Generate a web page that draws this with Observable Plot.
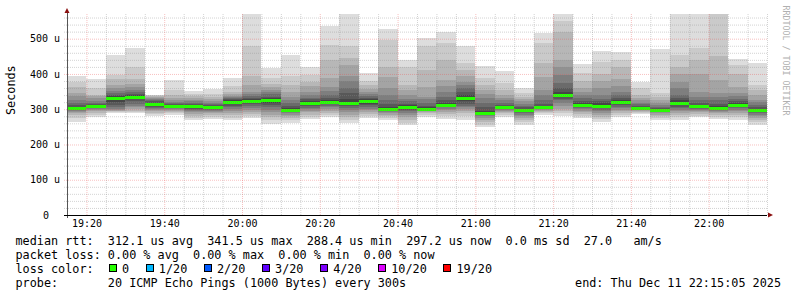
<!DOCTYPE html>
<html><head><meta charset="utf-8">
<script src="https://cdn.jsdelivr.net/npm/d3@7"></script>
<script src="https://cdn.jsdelivr.net/npm/@observablehq/plot@0.6"></script>
<style>
html,body{margin:0;padding:0;background:#fff;}
#wrap{width:797px;height:297px;position:relative;overflow:hidden;background:#fff;}
#wrap svg{display:block;}
svg text{white-space:pre;}
.legend{font-family:'DejaVu Sans Mono',monospace;font-size:11.8px;line-height:14px;color:#000;padding:2px 0 0 15.5px;white-space:pre;}
.legend .row{height:14px;display:flex;align-items:center;}
.legend .last{justify-content:space-between;padding-right:16px;}
.box{display:inline-block;width:8px;height:8px;box-sizing:border-box;border:1px solid #000;position:relative;top:-1px;}
</style></head><body><div id="wrap"></div>
<script>
// ---- data ----
const timeWindow = ["19:15", "22:15"];
const barEnd = ["19:20","19:25","19:30","19:35","19:40","19:45","19:50","19:55","20:00","20:05","20:10","20:15",
  "20:20","20:25","20:30","20:35","20:40","20:45","20:50","20:55","21:00","21:05","21:10","21:15",
  "21:20","21:25","21:30","21:35","21:40","21:45","21:50","21:55","22:00","22:05","22:10","22:15"];
// 20 sorted ping RTTs per step (microseconds)
const pings = [
  [265,275,284,289,293,296,298,300,301,302,304,306,312,318,325,338,347,362,376,395],
  [277,283,290,294,298,301,303,305,307,308,310,312,315,318,323,331,337,341,360,385],
  [288,291,294,296,298,300,305,312,320,330,334,337,340,345,352,360,370,385,398,455],
  [288,292,296,300,305,310,316,322,328,333,337,340,344,348,355,362,372,385,420,475],
  [281,286,290,295,298,301,304,307,310,313,317,319,322,325,328,331,334,337,339,341],
  [285,290,293,296,299,301,303,305,307,308,310,312,314,317,321,327,333,340,355,383],
  [270,276,282,287,291,295,299,302,305,307,311,313,316,319,323,327,332,337,343,352],
  [271,277,283,288,292,295,298,301,303,305,307,309,312,315,319,324,330,336,344,356],
  [268,276,284,290,295,300,305,310,315,318,322,325,328,331,334,338,343,350,365,389],
  [274,280,286,292,298,304,310,315,319,322,324,328,333,337,342,350,369,393,478,600],
  [259,268,277,285,292,298,305,312,318,323,327,331,336,342,348,355,362,372,388,417],
  [262,270,276,281,285,288,291,293,295,297,299,303,310,318,327,336,350,369,393,455],
  [271,278,285,291,296,300,304,308,312,315,319,323,328,333,340,350,365,378,397,419],
  [277,283,289,295,300,305,310,314,318,320,322,326,331,341,352,364,388,440,483,537],
  [262,270,278,285,292,298,303,308,313,317,321,330,345,360,380,393,426,445,478,600],
  [274,280,286,292,297,302,307,312,316,320,324,328,333,338,344,350,358,368,380,402],
  [270,276,281,285,289,292,295,297,299,301,303,307,315,325,340,360,390,421,497,527],
  [255,262,270,278,285,290,295,299,302,305,307,311,316,322,330,340,355,369,421,440],
  [279,284,288,291,294,296,298,299,300,301,302,305,310,318,328,336,364,412,478,501],
  [273,280,287,293,298,302,305,308,310,312,314,318,325,336,350,365,384,440,487,518],
  [270,280,288,295,300,305,310,316,322,329,335,341,350,360,370,378,395,412,430,478],
  [249,256,263,270,276,280,283,285,287,288,290,295,305,318,331,342,355,370,388,423],
  [279,284,288,292,295,298,300,302,303,304,306,309,313,318,325,333,341,355,374,409],
  [255,263,270,276,281,285,289,292,294,296,298,301,305,310,316,322,328,336,345,359],
  [284,288,292,295,298,300,302,303,304,305,307,310,315,325,341,355,390,430,487,516],
  [281,288,295,302,310,318,325,330,335,339,343,350,360,375,398,420,440,520,549,600],
  [274,280,286,291,296,300,303,306,309,311,315,319,324,331,340,350,360,380,402,429],
  [265,272,279,285,290,295,299,303,306,308,312,317,323,330,340,360,380,400,435,465],
  [277,283,289,294,299,303,307,311,315,319,323,327,333,340,350,365,385,421,440,461],
  [287,290,293,295,297,299,300,301,302,303,305,307,310,314,319,325,332,341,360,376],
  [270,276,281,285,289,292,294,295,296,297,298,300,303,307,312,318,325,336,345,470],
  [270,277,284,290,295,299,303,307,311,315,319,325,332,341,360,378,400,421,455,600],
  [277,282,287,291,295,298,301,304,306,308,310,313,318,325,335,350,400,440,473,600],
  [271,277,283,288,292,295,298,300,301,302,304,308,315,325,334,345,384,450,580,620],
  [270,277,284,290,295,299,303,306,309,311,313,317,322,330,338,345,364,400,425,442],
  [255,263,270,276,281,285,289,292,295,297,299,302,306,312,320,327,340,355,369,430]
];
const medians = [303,309,332,335,315,309,309,306,320,323,325,298,317,321,319,322,302,306,301,313,332,289,305,297,306,341,313,310,321,304,297,317,309,303,312,298];
const lossPerStep = new Array(36).fill(0); // all steps: 0/20 lost
const yTicks = [0,100,200,300,400,500];
const lossLabels = ["0","1/20","2/20","3/20","4/20","10/20","19/20"];
const lossColors = ["#26ff00","#00b8ff","#0059ff","#5e00ff","#7e00ff","#dd00ff","#ff0000"];
const rttStats = ["312.1 us avg","341.5 us max","288.4 us min","297.2 us now","0.0 ms sd","27.0   am/s"];
const lossStats = ["0.00 % avg","0.00 % max","0.00 % min","0.00 % now"];
const probeText = "20 ICMP Echo Pings (1000 Bytes) every 300s";
const endText = "end: Thu Dec 11 22:15:05 2025";

// ---- build ----
const toDate = s => { const [h,m] = s.split(":").map(Number); return new Date(Date.UTC(2025,11,11,h,m)); };
const STEP = 5*60*1000;
const x0 = toDate(timeWindow[0]), x1 = toDate(timeWindow[1]);
const bars = barEnd.map((s,i) => ({start: new Date(+toDate(s) - STEP), end: toDate(s), p: pings[i], median: medians[i], loss: lossPerStep[i]}));
const grey = k => { const c = Math.floor(190/10*(10-k)) + 50; return `rgb(${c},${c},${c})`; };
const layers = [];
for (let k = 1; k <= 10; k++) for (const b of bars) layers.push({start: b.start, end: b.end, lo: b.p[k-1], hi: b.p[20-k], fill: grey(k)});

const majorX = d3.utcMinute.every(20).range(x0, new Date(+x1 + 1));
const allX = d3.utcMinute.every(5).range(new Date(+x0 + 1), new Date(+x1 + 1));
const minorX = allX.filter(d => d.getUTCMinutes() % 20 !== 0);
const majorY = d3.range(100, 570, 100);
const minorY = d3.range(20, 570, 20).filter(v => v % 100 !== 0);
const gridMinor = "rgba(140,140,140,0.38)", gridMajor = "rgba(232,80,80,0.36)";

const plot = Plot.plot({
  width: 797, height: 232,
  marginLeft: 67, marginRight: 30, marginTop: 14, marginBottom: 17,
  style: {fontFamily: "'DejaVu Sans Mono', monospace", fontSize: "10px", background: "#fff", color: "#000", overflow: "visible"},
  x: {type: "utc", domain: [x0, x1]},
  y: {domain: [0, 570]},
  color: {type: "identity"},
  marks: [
    Plot.rect(layers, {x1: "start", x2: "end", y1: "lo", y2: "hi", fill: "fill", clip: true, shapeRendering: "crispEdges"}),
    Plot.ruleY(bars, {x1: "start", x2: "end", y: "median", stroke: d => lossColors[d.loss], strokeWidth: 3, shapeRendering: "crispEdges"}),
    Plot.ruleY(minorY, {stroke: gridMinor, strokeDasharray: "1,1", insetLeft: -3}),
    Plot.ruleX(minorX, {stroke: gridMinor, strokeDasharray: "1,1"}),
    Plot.ruleY(majorY, {stroke: gridMajor, strokeDasharray: "1,1", insetLeft: -3}),
    Plot.ruleX(majorX, {stroke: gridMajor, strokeDasharray: "1,1"}),
    Plot.ruleX([x0], {stroke: "#555", insetTop: -2, insetBottom: -3}),
    Plot.ruleY([0], {stroke: "#000", insetLeft: -3}),
    Plot.axisX({ticks: majorX, tickFormat: d3.utcFormat("%H:%M"), tickSize: 0, tickPadding: 4, label: null}),
    Plot.axisY({ticks: yTicks.filter(d => d > 0), tickFormat: d => `${d} u`, tickSize: 0, tickPadding: 7.5, label: null}),
    Plot.axisY({ticks: yTicks.filter(d => d === 0), tickFormat: d => `${d}`, tickSize: 0, tickPadding: 18.5, label: null}),
    Plot.text(["Seconds"], {text: d => d, frameAnchor: "left", dx: -56, rotate: -90, fontSize: 11.8}),
    Plot.text(["RRDTOOL / TOBI OETIKER"], {text: d => d, frameAnchor: "top-right", dx: 21, dy: -9, rotate: 90, textAnchor: "start", fill: "#b0b0b0", fontSize: 8.3})
  ]
});

// axis arrows, placed from the scales' ranges
const sx = plot.scale("x"), sy = plot.scale("y");
const ax = sx.range[0], axEnd = sx.range[1], ay = sy.range[0], ayTop = sy.range[1];
const svg = d3.select(plot);
svg.append("path").attr("d", `M${ax-2.5},${ayTop-1}L${ax+2.5},${ayTop-1}L${ax},${ayTop-6}Z`).attr("fill", "#8b1010");
svg.append("path").attr("d", `M${axEnd+1},${ay-2.5}L${axEnd+1},${ay+2.5}L${axEnd+6},${ay}Z`).attr("fill", "#8b1010");

const wrap = document.getElementById("wrap");
wrap.appendChild(plot);

// legend
const lg = document.createElement("div");
lg.className = "legend";
const r1 = document.createElement("div"); r1.className = "row";
r1.textContent = "median rtt:  " + rttStats.join("  ");
const r2 = document.createElement("div"); r2.className = "row";
r2.textContent = "packet loss: " + lossStats.join("  ");
const r3 = document.createElement("div"); r3.className = "row";
r3.appendChild(document.createTextNode("loss color:"));
lossLabels.forEach((l, i) => {
  const b = document.createElement("span"); b.className = "box";
  b.style.background = lossColors[i]; b.style.marginLeft = i === 0 ? "15.4px" : "16.7px";
  r3.appendChild(b);
  const t = document.createElement("span"); t.textContent = l; t.style.marginLeft = "5px";
  r3.appendChild(t);
});
const r4 = document.createElement("div"); r4.className = "row last";
const p1 = document.createElement("span"); p1.textContent = "probe:       " + probeText;
const p2 = document.createElement("span"); p2.textContent = endText;
r4.appendChild(p1); r4.appendChild(p2);
[r1, r2, r3, r4].forEach(r => lg.appendChild(r));
wrap.appendChild(lg);
</script></body></html>
